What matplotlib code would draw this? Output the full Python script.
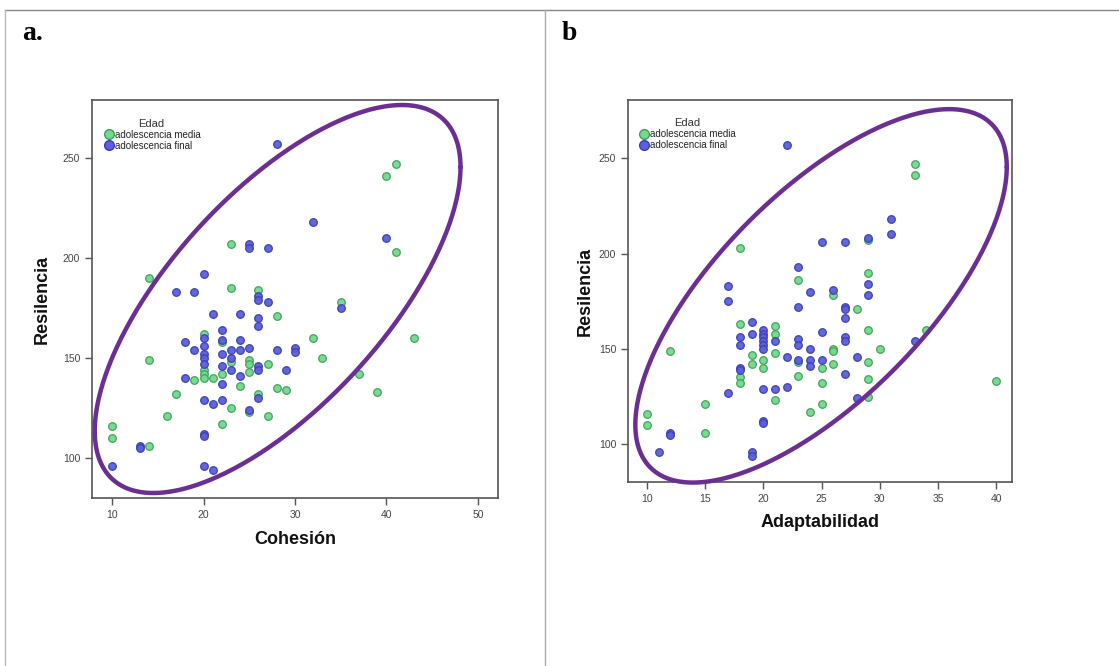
import numpy as np
import matplotlib
matplotlib.use("Agg")
import matplotlib.pyplot as plt
from matplotlib.lines import Line2D

# ---------------- data ----------------
# Panel a: Cohesion vs Resilencia
a_media_x = [23, 23, 26, 28, 20, 22, 20, 20, 20, 22, 23, 25, 25, 25, 27, 19, 21, 24, 28, 29,
             17, 26, 23, 25, 27, 16, 22, 32, 35, 33, 37, 39, 43, 41, 40, 41, 14, 14, 10, 10, 14]
a_media_y = [207, 185, 184, 171, 162, 158, 144, 142, 140, 142, 148, 149, 147, 143, 147, 139, 140, 136, 135, 134,
             132, 132, 125, 123, 121, 121, 117, 160, 178, 150, 142, 133, 160, 247, 241, 203, 190, 149, 116, 110, 106]
a_final_x = [25, 25, 27, 20, 17, 19, 26, 26, 27, 21, 24, 26, 26, 20, 20, 22, 22, 24, 18, 19,
             20, 20, 22, 23, 24, 25, 28, 30, 30, 20, 22, 23, 23, 24, 26, 26, 29, 18, 22, 26,
             20, 21, 22, 25, 35, 32, 40, 28, 10, 13, 13, 20, 20, 20, 21]
a_final_y = [207, 205, 205, 192, 183, 183, 181, 179, 178, 172, 172, 170, 166, 160, 156, 164, 159, 159, 158, 154,
             152, 150, 152, 154, 154, 155, 154, 155, 153, 147, 146, 150, 144, 141, 146, 144, 144, 140, 137, 130,
             129, 127, 129, 124, 175, 218, 210, 257, 96, 106, 105, 112, 111, 96, 94]

# Panel b: Adaptabilidad vs Resilencia
b_media_x = [18, 23, 29, 29, 26, 28, 29, 21, 21, 21, 26, 26, 30, 19, 20, 23, 25, 26, 29, 19,
             20, 23, 25, 29, 18, 18, 21, 25, 24, 29, 18, 12, 10, 10, 15, 15, 34, 40, 33, 33]
b_media_y = [203, 186, 207, 190, 178, 171, 160, 162, 158, 148, 150, 149, 150, 147, 144, 143, 140, 142, 143, 142,
             140, 136, 132, 134, 135, 132, 123, 121, 117, 125, 163, 149, 116, 110, 121, 106, 160, 133, 247, 241]
b_final_x = [22, 23, 17, 17, 24, 31, 31, 25, 27, 29, 29, 29, 26, 23, 27, 27, 27, 25, 19, 19,
             20, 20, 20, 20, 20, 20, 21, 18, 18, 23, 23, 24, 27, 27, 28, 22, 23, 24, 24, 25,
             27, 18, 18, 20, 21, 22, 28, 20, 20, 12, 12, 11, 17, 19, 19, 33]
b_final_y = [257, 193, 183, 175, 180, 218, 210, 206, 206, 208, 184, 178, 181, 172, 172, 171, 166, 159, 164, 158,
             160, 158, 156, 154, 152, 150, 154, 156, 152, 155, 152, 150, 156, 154, 146, 146, 144, 144, 141, 144,
             137, 140, 139, 129, 129, 130, 124, 112, 111, 106, 105, 96, 127, 96, 94, 154]

a_xticks = [10, 20, 30, 40, 50]
b_xticks = [10, 15, 20, 25, 30, 35, 40]
y_ticks = [100, 150, 200, 250]
legend_title = "Edad"
series_names = ["adolescencia media", "adolescencia final"]

# hand-drawn ellipses (center, half-extents, tilt correlation) in data units
a_ell = dict(cx=28.1, cy=179.5, ax=20.0, ay=97.0, r=0.68)
b_ell = dict(cx=24.95, cy=177.8, ax=15.95, ay=97.9, r=0.69)

# ---------------- style ----------------
GREEN_FC, GREEN_EC = "#72d98c", "#3f9f58"
BLUE_FC, BLUE_EC = "#5b5fdc", "#3b3db0"
PURPLE = "#6b2f93"
SPINE = "#555555"

plt.rcParams['font.family'] = ['Liberation Sans', 'DejaVu Sans']

W, H = 1119, 666
fig = plt.figure(figsize=(W / 100, H / 100), dpi=100)


def fx(px):
    return px / W


def fy(py):
    return 1 - py / H


# table lines
fig.add_artist(Line2D([fx(5), 1], [fy(10), fy(10)], color="#888888", lw=1.0, transform=fig.transFigure))
fig.add_artist(Line2D([fx(545), fx(545)], [fy(10), 0], color="#aaaaaa", lw=1.0, transform=fig.transFigure))
fig.add_artist(Line2D([fx(5), fx(5)], [fy(10), 0], color="#bbbbbb", lw=1.0, transform=fig.transFigure))

fig.text(fx(22), fy(33), "a.", family="Liberation Serif", fontweight="bold", fontsize=20, va="center", ha="left")
fig.text(fx(562), fy(33), "b", family="Liberation Serif", fontweight="bold", fontsize=20, va="center", ha="left")


def ellipse_pts(e):
    t = np.linspace(0, 2 * np.pi, 400)
    d = np.arccos(e['r'])
    return e['cx'] + e['ax'] * np.cos(t), e['cy'] + e['ay'] * np.cos(t - d)


def panel(rect, xm, ym, xf, yf, xticks, xlim, ylim, xlabel, ell, xlab_pad, ylab_pad):
    ax = fig.add_axes(rect)
    ax.scatter(xm, ym, s=30, facecolor=GREEN_FC, edgecolor=GREEN_EC, linewidths=0.9, zorder=3, alpha=0.95)
    ax.scatter(xf, yf, s=30, facecolor=BLUE_FC, edgecolor=BLUE_EC, linewidths=0.9, zorder=3, alpha=0.95)
    ex, ey = ellipse_pts(ell)
    ax.plot(ex, ey, color=PURPLE, lw=3.2, zorder=4, clip_on=False, solid_capstyle="round")
    ax.set_xlim(*xlim)
    ax.set_ylim(*ylim)
    ax.set_xticks(xticks)
    ax.set_yticks(y_ticks)
    ax.tick_params(direction="out", length=5, width=1, colors=SPINE, labelsize=7.5, labelcolor="#444444",
                   top=False, right=False)
    for s in ax.spines.values():
        s.set_color(SPINE)
        s.set_linewidth(1.2)
    ax.set_xlabel(xlabel, fontsize=13, fontweight="bold", labelpad=xlab_pad, color="#111111")
    ax.set_ylabel("Resilencia", fontsize=13, fontweight="bold", labelpad=ylab_pad, color="#111111")
    # legend
    h1 = Line2D([], [], marker="o", ls="", markersize=7, markerfacecolor=GREEN_FC, markeredgecolor=GREEN_EC)
    h2 = Line2D([], [], marker="o", ls="", markersize=7, markerfacecolor=BLUE_FC, markeredgecolor=BLUE_EC)
    leg = ax.legend([h1, h2], series_names, title=legend_title, loc="upper left", bbox_to_anchor=(0.01, 0.97),
                    frameon=False, fontsize=7, title_fontsize=8, handletextpad=0.0, borderpad=0.2,
                    labelspacing=0.1, handlelength=1.2)
    leg.get_title().set_color("#333333")
    for t in leg.get_texts():
        t.set_color("#222222")
    return ax


panel([fx(92), fy(498), fx(498) - fx(92), fy(100) - fy(498)],
      a_media_x, a_media_y, a_final_x, a_final_y, a_xticks, (7.8, 52.2), (80, 279), "Cohesión", a_ell, 8, 9)

panel([fx(628), fy(482), fx(1012) - fx(628), fy(100) - fy(482)],
      b_media_x, b_media_y, b_final_x, b_final_y, b_xticks, (8.37, 41.35), (80.2, 280.5), "Adaptabilidad", b_ell, 7, 4)

fig.savefig("out.png", dpi=100)
